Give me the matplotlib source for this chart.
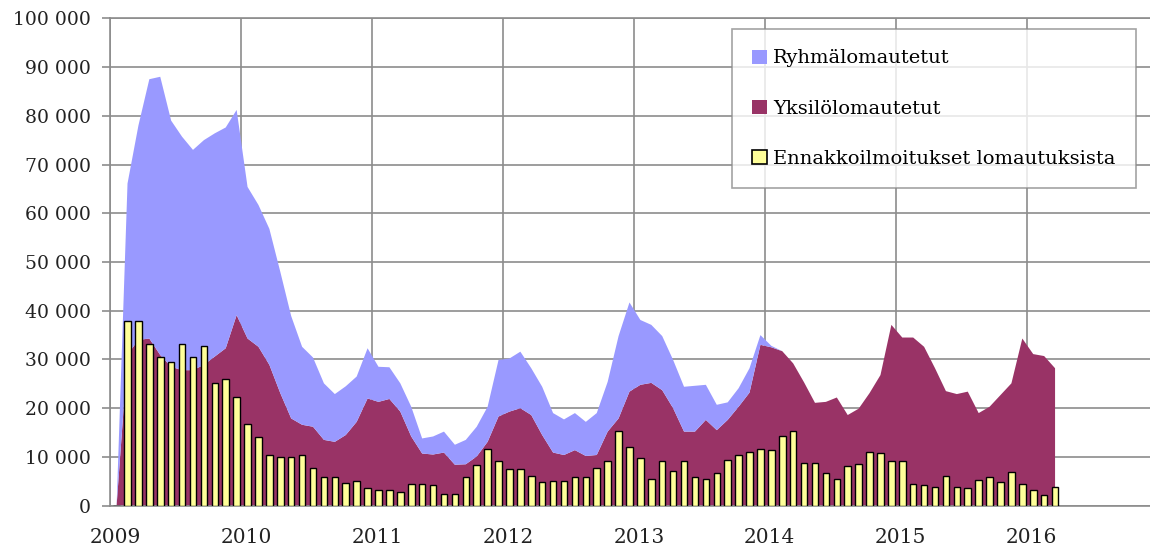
import numpy as np
import matplotlib
matplotlib.use("Agg")
import matplotlib.pyplot as plt
from matplotlib.patches import Patch
from matplotlib.transforms import ScaledTranslation

# Kuukausittaiset luvut 1/2009 - 3/2016 (tammikuu 2009 = 0)
yksilo = [0,
    31000, 34000, 34300, 30900, 28500, 27800, 27800, 28900, 30600, 32300,
    39100, 34300, 32600, 28900, 23100, 17900, 16600, 16200, 13500, 13100,
    14500, 17200, 22000, 21300, 21900, 19300, 14200, 10700, 10500, 10900,
    8400, 8500, 10100, 13100, 18300, 19300, 20000, 18600, 14500, 10900,
    10400, 11400, 10200, 10400, 15200, 17900, 23400, 24800, 25200, 23700,
    20000, 15200, 15200, 17600, 15500, 17600, 20300, 23200, 33000, 32500,
    31700, 29200, 25300, 21100, 21300, 22200, 18600, 19900, 23100, 26800,
    37100, 34500, 34500, 32600, 28200, 23500, 22900, 23400, 19000, 20300,
    22700, 25100, 34300, 31100, 30700, 28200]

ryhma = [0,
    35100, 44000, 53200, 57100, 50500, 47900, 45200, 46100, 45800, 45300,
    42100, 31100, 29100, 27900, 24900, 21000, 16000, 14200, 11600, 9800,
    10000, 9300, 10300, 7200, 6500, 5800, 6100, 3100, 3700, 4300,
    4100, 5000, 6100, 7200, 11600, 10900, 11600, 9600, 9900, 8100,
    7300, 7600, 7000, 8600, 10200, 16900, 18300, 13300, 11900, 11100,
    9900, 9200, 9400, 7200, 5200, 3600, 3800, 5000, 2000, 300,
    0, 0, 0, 0, 0, 0, 0, 0, 0, 0,
    0, 0, 0, 0, 0, 0, 0, 0, 0, 0,
    0, 0, 0, 0, 0, 0]

ennakko = [0,
    37800, 37800, 33100, 30500, 29500, 33100, 30500, 32800, 25200, 25900,
    22300, 16700, 14000, 10500, 10000, 10000, 10500, 7800, 5900, 5900,
    4600, 5100, 3600, 3200, 3200, 2900, 4400, 4400, 4200, 2500,
    2500, 5800, 8400, 11700, 9100, 7500, 7500, 6100, 4900, 5100,
    5100, 5800, 5800, 7700, 9100, 15400, 12100, 9700, 5500, 9100,
    7200, 9100, 5800, 5500, 6800, 9400, 10400, 11100, 11700, 11400,
    14400, 15400, 8800, 8800, 6800, 5500, 8200, 8500, 11100, 10800,
    9200, 9200, 4500, 4200, 3900, 6100, 3900, 3600, 5200, 5900,
    4900, 6900, 4500, 3200, 2200, 3900]

vuodet = ["2009", "2010", "2011", "2012", "2013", "2014", "2015", "2016"]

sininen = "#9999FF"
viini = "#993366"
keltainen = "#FFFF99"
harmaa = "#8c8c8c"

plt.rcParams["font.family"] = ["DejaVu Serif"]

fig = plt.figure(figsize=(11.5, 5.54), dpi=100)
ax = fig.add_axes([0.0957, 0.0872, 0.9043, 0.8798])

x = np.arange(len(ennakko)) + 0.6

ax.stackplot(x, yksilo, ryhma, colors=[viini, sininen], linewidth=0, zorder=2)
ax.bar(x, ennakko, width=0.6, color=keltainen, edgecolor="black",
       linewidth=1.0, zorder=3)

ax.set_xlim(0, 95.3)
ax.set_ylim(0, 100000)

ax.set_yticks(np.arange(0, 100001, 10000))
ax.set_yticklabels([f"{v:,}".replace(",", " ") for v in range(0, 100001, 10000)])
ax.set_xticks(np.arange(0, 96, 12))
ax.set_xticklabels(vuodet)

ax.grid(True, color=harmaa, linewidth=1.2)
ax.set_axisbelow(True)

for s in ["left", "top", "bottom"]:
    ax.spines[s].set_color(harmaa)
    ax.spines[s].set_linewidth(1.2)
ax.spines["right"].set_visible(False)

ax.tick_params(axis="y", length=6, width=1.2, color=harmaa, pad=8,
               labelsize=13.5, labelcolor="#222222")
ax.tick_params(axis="x", length=0, pad=16, labelsize=14.5, labelcolor="#222222")

siirto = ScaledTranslation(5 / 100, 0, fig.dpi_scale_trans)
for t in ax.get_xticklabels():
    t.set_transform(t.get_transform() + siirto)

kahvat = [
    Patch(facecolor=sininen, edgecolor="none"),
    Patch(facecolor=viini, edgecolor="none"),
    Patch(facecolor=keltainen, edgecolor="black", linewidth=1.2),
]
nimet = ["Ryhmälomautetut", "Yksilölomautetut", "Ennakkoilmoitukset lomautuksista"]
leg = ax.legend(kahvat, nimet, loc="upper left", bbox_to_anchor=(0.598, 0.978),
                fontsize=14, frameon=True, fancybox=False, borderpad=1.05,
                labelspacing=1.65, handlelength=0.75, handleheight=0.75,
                handletextpad=0.3, borderaxespad=0)
leg.get_frame().set_edgecolor(harmaa)
leg.get_frame().set_linewidth(1.2)

fig.savefig("out.png", dpi=100)
